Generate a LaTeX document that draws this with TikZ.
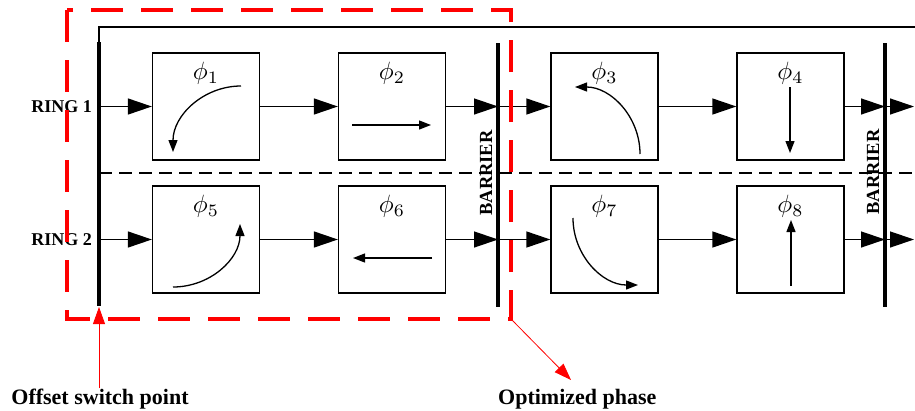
\documentclass[tikz,border=0pt]{standalone}
\usepackage{graphicx}
\usepackage{fontspec}
\setmainfont{Liberation Serif}
\usetikzlibrary{arrows.meta}
\tikzset{
  phasebox/.style={draw, line width=1.3pt, minimum width=107pt, minimum height=107pt, inner sep=0pt},
  phaselabel/.style={inner sep=0pt},
  flow/.style={line width=1.3pt, -{Triangle[length=24pt,width=16pt]}},
  turn/.style={line width=1.3pt, -{Triangle[length=12pt,width=9pt]}},
  barrierbar/.style={line width=3.5pt},
  ringlabel/.style={font=\fontsize{18}{20}\selectfont\bfseries, anchor=east, inner sep=0pt},
  barlabel/.style={font=\fontsize{18.5}{20}\selectfont\bfseries, rotate=90, inner sep=0pt},
  notelabel/.style={font=\fontsize{22}{24}\selectfont\bfseries, inner sep=0pt},
  redarrow/.style={red, line width=0.8pt, -{Triangle[length=17pt,width=12pt]}}
}
\begin{document}
\begin{tikzpicture}[x=1pt, y=-1pt]
    \useasboundingbox (0,0) rectangle (915,410);

    % 1. Khung ngoai va duong phan cach hai vong
    \draw[line width=1.2pt] (99,42) -- (99,27) -- (915,27);
    \draw[line width=1.2pt, dash pattern=on 13pt off 7pt] (99,173) -- (915,173);

    % 2. Cac thanh doc (diem chuyen, barrier)
    \draw[barrierbar] (99,42) -- (99,306);
    \draw[barrierbar] (498,43) -- (498,307);
    \draw[barrierbar] (885,43) -- (885,307);

    \coordinate (o1) at (99,106.5);  \coordinate (o2) at (99,239.5);
    \coordinate (a1) at (498,106.5); \coordinate (a2) at (498,239.5);
    \coordinate (c1) at (885,106.5); \coordinate (c2) at (885,239.5);
    \coordinate (e1) at (914,106.5); \coordinate (e2) at (914,239.5);

    % 3. Cac pha
    \node[phasebox] (p1) at (206,106.5) {};
    \node[phasebox] (p2) at (392,106.5) {};
    \node[phasebox] (p3) at (604.5,106.5) {};
    \node[phasebox] (p4) at (790.5,106.5) {};
    \node[phasebox] (p5) at (206,239.5) {};
    \node[phasebox] (p6) at (392,239.5) {};
    \node[phasebox] (p7) at (604.5,239.5) {};
    \node[phasebox] (p8) at (790.5,239.5) {};

    \foreach \i in {1,...,8}
        \node[phaselabel] (l\i) at ([yshift=-21pt]p\i.north) {\scalebox{2.5}{$\phi_{\i}$}};

    % 4. Mui ten dong chay
    \foreach \a/\b in {o1/p1, p1/p2, p2/a1, a1/p3, p3/p4, p4/c1, c1/e1,
                       o2/p5, p5/p6, p6/a2, a2/p7, p7/p8, p8/c2, c2/e2}
        \draw[flow] (\a) -- (\b);

    % 5. Huong di chuyen trong moi pha
    \draw[turn] (241,86) .. controls (204,86) and (173,115) .. (173,152);
    \draw[turn] (352,125) -- (431,125);
    \draw[turn] (640,154) .. controls (640,117) and (611,87) .. (575,87);
    \draw[turn] (790,87) -- (790,153);
    \draw[turn] (173,287) .. controls (210,287) and (240,259) .. (240,224);
    \draw[turn] (432,258) -- (353,258);
    \draw[turn] (573,218) .. controls (573,255) and (602,285) .. (638,285);
    \draw[turn] (791,286) -- (791,220);

    % 6. Nhan
    \node[ringlabel] (r1) at (92,106.5) {RING 1};
    \node[ringlabel] (r2) at (92,239.5) {RING 2};
    \node[barlabel] (bl1) at (486,173) {BARRIER};
    \node[barlabel] (bl2) at (873,172) {BARRIER};

    % 7. Vung toi uu va chu thich
    \draw[red, line width=4pt, dash pattern=on 32pt off 18pt] (67,10) rectangle (511,319);

    \node[notelabel, anchor=base] (off) at (100,404) {Offset switch point};
    \node[notelabel, anchor=base west] (opt) at (498,404) {Optimized phase};
    \coordinate (sw) at (99,307);
    \coordinate (optstart) at (512,320);
    \coordinate (opttip) at (571,380);
    \draw[redarrow] (off.north -| sw) -- (sw);
    \draw[redarrow] (optstart) -- (opttip);
\end{tikzpicture}
\end{document}
